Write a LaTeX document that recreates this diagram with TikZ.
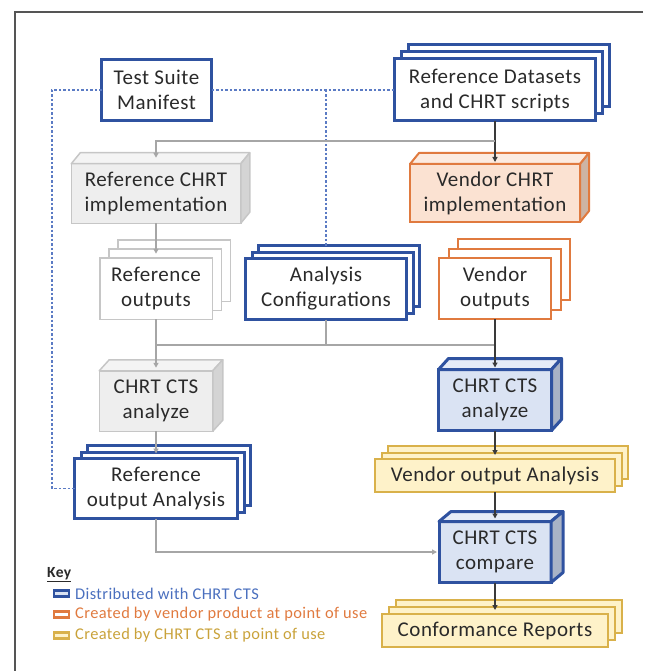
\documentclass[tikz,border=0pt]{standalone}
\usepackage{fontspec}
\setmainfont{Carlito}[LetterSpace=2.5]
\usetikzlibrary{shadows,arrows.meta,calc}
\definecolor{dblue}{HTML}{2F52A0}
\definecolor{lblue}{HTML}{DAE3F3}
\definecolor{tblue}{HTML}{E6ECF7}
\definecolor{sblue}{HTML}{A9B3C6}
\definecolor{oran}{HTML}{E07A3F}
\definecolor{lora}{HTML}{FBE2D2}
\definecolor{tora}{HTML}{FCEBE0}
\definecolor{sora}{HTML}{CDB4A4}
\definecolor{yel}{HTML}{D9B14A}
\definecolor{lyel}{HTML}{FEF2C9}
\definecolor{gbord}{HTML}{C6C6C6}
\definecolor{gfill}{HTML}{EEEEEE}
\definecolor{gtop}{HTML}{F4F4F4}
\definecolor{gside}{HTML}{D4D4D4}
\definecolor{gline}{HTML}{A6A6A6}
\definecolor{dline}{HTML}{3A3A3A}
\definecolor{dashblue}{HTML}{5B7BC4}
\definecolor{txt}{HTML}{2A2A2A}
\definecolor{kblue}{HTML}{4A6FBE}
\definecolor{kora}{HTML}{E07A3F}
\definecolor{kyel}{HTML}{C9A23A}
\definecolor{framecol}{HTML}{555555}
\newcommand{\cubefaces}[6]{%
  \draw[#4, fill=#5, line join=round] (#1.north west) -- ++(#2,-#3) -- ($(#1.north east)+(#2,-#3)$) -- (#1.north east) -- cycle;
  \draw[#4, fill=#6, line join=round] (#1.north east) -- ($(#1.north east)+(#2,-#3)$) -- ($(#1.south east)+(#2,-#3)$) -- (#1.south east) -- cycle;
}
\begin{document}
\begin{tikzpicture}[x=1pt,y=-1pt,
  box/.style={rectangle, align=center, inner sep=0pt, outer sep=0pt, text=txt,
    font=\fontsize{21}{25}\selectfont},
  bluebox/.style={box, draw=dblue, line width=3pt, fill=white},
  oranbox/.style={box, draw=oran, line width=2pt, fill=white},
  yelbox/.style={box, draw=yel, line width=2pt, fill=lyel},
  graybox/.style={box, draw=gbord, line width=1.5pt, fill=white},
  graycube/.style={box, draw=gbord, line width=1.5pt, fill=gfill},
  orancube/.style={box, draw=oran, line width=2pt, fill=lora},
  bluecube/.style={box, draw=dblue, line width=3pt, fill=lblue},
  stk/.style args={#1/#2/#3}{copy shadow={shadow xshift=#2, shadow yshift=#2, #1},
    copy shadow={shadow xshift=#3, shadow yshift=#3, #1}},
  gry/.style={draw=gline, line width=1.3pt},
  blk/.style={draw=dline, line width=1.3pt},
  arr/.style={-{Triangle[length=5pt,width=5pt]}},
  dsh/.style={draw=dashblue, line width=1.3pt, dash pattern=on 2.5pt off 2pt},
  keyicon/.style={rectangle, minimum width=15pt, minimum height=6pt, inner sep=0pt, line width=2.2pt},
  keytext/.style={anchor=west, inner sep=0pt, font=\fontsize{16.4}{18}\selectfont}
]
\useasboundingbox (0,0) rectangle (646,671);
\draw[framecol, line width=1.5pt] (643,12) -- (15,12) -- (15,671);

% nodes
\node[bluebox, minimum width=110, minimum height=61] (tsm) at (156.5,90) {Test Suite\\Manifest};
\node[bluebox, stk={draw=dblue,fill=white,line width=3pt}/14pt/7pt, minimum width=201, minimum height=62] (rds) at (495,90) {Reference Datasets\\and CHRT scripts};

\node[graycube, minimum width=169.5, minimum height=59.5] (rci) at (156,193.5) {Reference CHRT\\implementation};
\cubefaces{rci}{9}{11}{draw=gbord, line width=1.5pt}{gtop}{gside}
\node[orancube, minimum width=170, minimum height=58] (vci) at (495,193) {Vendor CHRT\\implementation};
\cubefaces{vci}{9}{11}{draw=oran, line width=2pt}{tora}{sora}

\node[graybox, stk={draw=gbord,fill=white,line width=1.5pt}/18pt/9pt, minimum width=112.5, minimum height=61.5] (ro) at (156,288.5) {Reference\\outputs};
\node[bluebox, stk={draw=dblue,fill=white,line width=3pt}/13pt/6.5pt, minimum width=161, minimum height=61] (ac) at (326,289) {Analysis\\Configurations};
\node[oranbox, stk={draw=oran,fill=white,line width=2pt}/19pt/9.5pt, minimum width=112, minimum height=61] (vo) at (495,288.5) {Vendor\\outputs};

\node[graycube, minimum width=113.5, minimum height=60.5] (cal) at (156,401) {CHRT CTS\\analyze};
\cubefaces{cal}{10}{11}{draw=gbord, line width=1.5pt}{gtop}{gside}
\node[bluecube, minimum width=113, minimum height=61] (car) at (495,400) {CHRT CTS\\analyze};
\cubefaces{car}{10}{11}{draw=dblue, line width=3pt}{tblue}{sblue}

\node[bluebox, stk={draw=dblue,fill=white,line width=3pt}/13pt/6.5pt, minimum width=163, minimum height=60] (roa) at (156,488.5) {Reference\\output Analysis};
\node[yelbox, stk={draw=yel,fill=lyel,line width=2pt}/13pt/6.5pt, minimum width=240, minimum height=33] (voa) at (495,475.5) {Vendor output Analysis};

\node[bluecube, minimum width=112, minimum height=61] (cmp) at (495,552) {CHRT CTS\\compare};
\cubefaces{cmp}{12}{10}{draw=dblue, line width=3pt}{tblue}{sblue}

\node[yelbox, stk={draw=yel,fill=lyel,line width=2pt}/14pt/7pt, minimum width=226, minimum height=33] (cr) at (495,630.5) {Conformance Reports};

% connectors
\coordinate (dl) at (52,90);
\draw[dsh] (tsm.west) -- (dl) |- (roa.west);
\draw[dsh] (tsm.east) -- (rds.west);
\coordinate (dm) at (ac.north |- tsm.east);
\draw[dsh, shorten >=13pt] (dm) -- (ac.north);

\coordinate (j1) at (495,141);
\draw[blk, arr, shorten >=2pt] (rds.south) -- (vci.north);
\draw[gry, arr, shorten >=6pt] (j1) -| (rci.north);
\draw[gry, arr, shorten >=4pt] (rci.south) -- (ro.north);

\coordinate (jL) at (156,345);
\coordinate (jR) at (495,345);
\draw[gry] (ac.south) -- (ac.south |- jL);
\draw[gry] (jL) -- (jR);
\draw[gry, arr, shorten >=3pt] (ro.south) -- (cal.north);
\draw[blk, arr, shorten >=2pt] (vo.south) -- (car.north);
\draw[gry, arr, shorten >=5pt] (cal.south) -- (roa.north);
\draw[blk, arr, shorten >=4pt] (car.south) -- (voa.north);
\draw[blk, arr, shorten >=3pt] (voa.south) -- (cmp.north);
\draw[blk, arr, shorten >=4pt] (cmp.south) -- (cr.north);
\draw[gry, arr, shorten >=2pt] (roa.south) |- (cmp.west);

% key
\node[anchor=west, inner sep=0pt, text=txt, font=\fontsize{15.5}{18}\selectfont\bfseries] (key) at (47,575) {\underline{Key}};
\node[keyicon, draw=dblue, fill=lblue] (k1) at (61.5,593.5) {};
\node[keytext, text=kblue] (t1) at (75,593.5) {Distributed with CHRT CTS};
\node[keyicon, draw=kora, fill=white] (k2) at (61.5,614.5) {};
\node[keytext, text=kora] (t2) at (75,614.5) {Created by vendor product at point of use};
\node[keyicon, draw=yel, fill=lyel] (k3) at (61.5,635.5) {};
\node[keytext, text=kyel] (t3) at (75,635.5) {Created by CHRT CTS at point of use};
\end{tikzpicture}
\end{document}
